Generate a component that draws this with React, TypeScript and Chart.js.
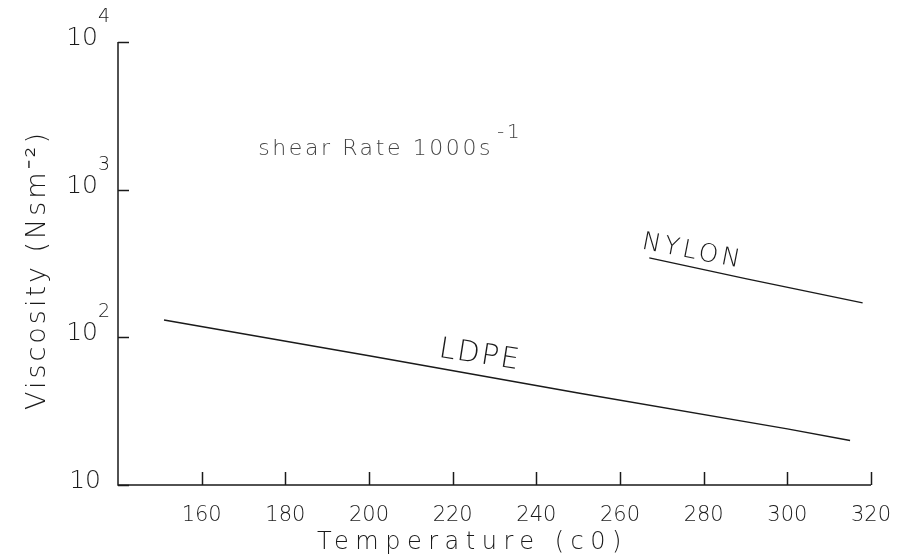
import React, { useEffect, useRef } from 'react';
import { Chart, registerables } from 'chart.js';

Chart.register(...registerables);

// ---- data ----
const xTickValues = [160, 180, 200, 220, 240, 260, 280, 300, 320];
const yTickValues = [10, 100, 1000, 10000];
const yTickExponents = ['', '2', '3', '4'];
const ldpeTemp = [151, 200, 250, 300, 315];
const ldpeVisc = [131, 75, 42, 24, 20];
const nylonTemp = [267, 290, 318];
const nylonVisc = [345, 250, 171];
const xTitle = 'Temperature (c0)';
const yTitle = 'Viscosity (Nsm⁻²)';
const shearText = 'shear Rate 1000s';
const shearSup = '-1';
const ldpeLabel = 'LDPE';
const nylonLabel = 'NYLON';

const FONT = '"DejaVu Sans"';
const INK = '#1a1a1a';

const decor = {
  id: 'decor',
  afterDraw(chart: any) {
    const { ctx, chartArea } = chart;
    const { left, right, top, bottom } = chartArea;
    const xs = chart.scales.x;
    const ys = chart.scales.y;
    ctx.save();
    ctx.strokeStyle = INK;
    ctx.lineWidth = 1.5;
    ctx.beginPath();
    ctx.moveTo(left, top);
    ctx.lineTo(left, bottom);
    ctx.lineTo(right, bottom);
    ctx.stroke();
    // x tick marks (inward)
    xTickValues.forEach((v) => {
      const px = Math.round(xs.getPixelForValue(v)) + 0.5;
      ctx.beginPath();
      ctx.moveTo(px, bottom);
      ctx.lineTo(px, bottom - 13);
      ctx.stroke();
    });
    // y tick marks (inward) + labels
    yTickValues.forEach((v, i) => {
      const py = Math.round(ys.getPixelForValue(v)) + 0.5;
      ctx.strokeStyle = INK;
      ctx.beginPath();
      ctx.moveTo(left, py);
      ctx.lineTo(left + 11, py);
      ctx.stroke();
      ctx.fillStyle = INK;
      ctx.font = `200 25px ${FONT}`;
      ctx.textAlign = 'right';
      ctx.textBaseline = 'middle';
      ctx.letterSpacing = '0px';
      const exp = yTickExponents[i];
      ctx.fillText('10', exp ? left - 20 : left - 17, py - 4);
      if (exp) {
        ctx.font = `200 19px ${FONT}`;
        ctx.textAlign = 'left';
        ctx.fillText(exp, left - 20, py - 25);
      }
    });
    ctx.letterSpacing = '0px';

    // axis titles
    ctx.fillStyle = INK;
    ctx.font = `200 24px ${FONT}`;
    ctx.letterSpacing = '6.5px';
    ctx.textAlign = 'left';
    ctx.textBaseline = 'alphabetic';
    ctx.fillText(xTitle, 317, 549);

    ctx.save();
    ctx.translate(45, 410);
    ctx.rotate(-Math.PI / 2);
    ctx.font = `200 27px ${FONT}`;
    ctx.letterSpacing = '3px';
    ctx.fillText(yTitle, 0, 0);
    ctx.restore();

    // annotation: shear rate
    const sx = xs.getPixelForValue(173.5);
    const sy = ys.getPixelForValue(1720);
    ctx.font = `200 22px ${FONT}`;
    ctx.letterSpacing = '2.6px';
    ctx.fillStyle = '#444';
    ctx.fillText(shearText, sx, sy);
    const w = ctx.measureText(shearText).width;
    ctx.font = `200 20px ${FONT}`;
    ctx.fillText(shearSup, sx + w + 4, sy - 17);

    // curve labels
    ctx.fillStyle = INK;
    const lx = xs.getPixelForValue(216.5);
    const ly = ys.getPixelForValue(74);
    ctx.save();
    ctx.translate(lx, ly);
    ctx.rotate((9 * Math.PI) / 180);
    ctx.font = `200 29px ${FONT}`;
    ctx.letterSpacing = '2px';
    ctx.fillText(ldpeLabel, 0, 0);
    ctx.restore();

    const nx = xs.getPixelForValue(265);
    const ny = ys.getPixelForValue(400);
    ctx.save();
    ctx.translate(nx, ny);
    ctx.rotate((11 * Math.PI) / 180);
    ctx.font = `200 25px ${FONT}`;
    ctx.letterSpacing = '3.5px';
    ctx.fillText(nylonLabel, 0, 0);
    ctx.restore();

    ctx.restore();
  },
};

export default function App() {
  const ref = useRef<HTMLCanvasElement | null>(null);
  useEffect(() => {
    if (!ref.current) return;
    const chart = new Chart(ref.current, {
      type: 'line',
      data: {
        datasets: [
          {
            label: ldpeLabel,
            data: ldpeTemp.map((t, i) => ({ x: t, y: ldpeVisc[i] })),
            borderColor: INK,
            borderWidth: 1.4,
            pointRadius: 0,
            fill: false,
            tension: 0,
          },
          {
            label: nylonLabel,
            data: nylonTemp.map((t, i) => ({ x: t, y: nylonVisc[i] })),
            borderColor: INK,
            borderWidth: 1.4,
            pointRadius: 0,
            fill: false,
            tension: 0,
          },
        ],
      },
      options: {
        animation: false,
        responsive: true,
        maintainAspectRatio: false,
        layout: { padding: { left: 0, right: 32, top: 42, bottom: 0 } },
        plugins: { legend: { display: false }, tooltip: { enabled: false } },
        scales: {
          x: {
            type: 'linear',
            min: 140,
            max: 320,
            grid: { display: false },
            border: { display: false },
            afterBuildTicks: (s: any) => {
              s.ticks = xTickValues.map((v) => ({ value: v }));
            },
            afterFit: (s: any) => {
              s.height = 73;
            },
            ticks: {
              autoSkip: false,
              maxRotation: 0,
              padding: 10,
              color: INK,
              font: { family: 'DejaVu Sans', size: 21, weight: '200' as any },
              callback: (v: any) => String(v),
            },
          },
          y: {
            type: 'logarithmic',
            min: 10,
            max: 10000,
            grid: { display: false },
            border: { display: false },
            ticks: { display: false },
            afterBuildTicks: (s: any) => {
              s.ticks = yTickValues.map((v) => ({ value: v }));
            },
            afterFit: (s: any) => {
              s.width = 118;
            },
          },
        },
      },
      plugins: [decor],
    });
    return () => chart.destroy();
  }, []);
  return (
    <div style={{ position: 'absolute', left: 0, top: 0, width: 903, height: 558, background: '#fff' }}>
      <canvas ref={ref} />
    </div>
  );
}
